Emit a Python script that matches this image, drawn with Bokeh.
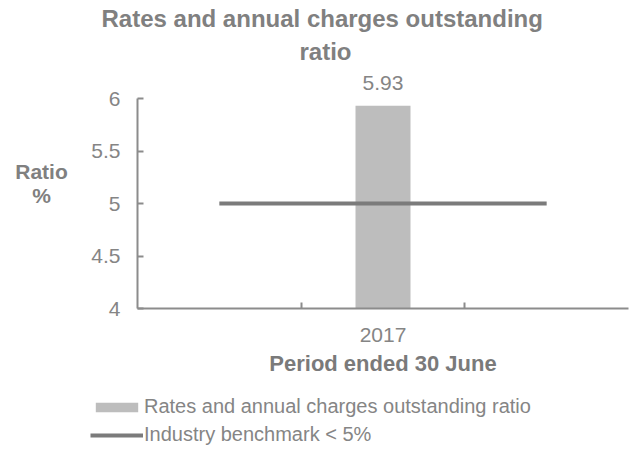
from bokeh.plotting import figure
from bokeh.models import FixedTicker, Range1d, Legend, LegendItem, NumeralTickFormatter, Title, Label
from bokeh.core.properties import value
from bokeh.embed import file_html
from bokeh.resources import INLINE

# ---- data ----
categories = ["", "2017", ""]
bar_years = ["2017"]
ratio = [5.93]
benchmark = [5, 5, 5]
y_ticks = [4, 4.5, 5, 5.5, 6]
y_bounds = (4, 6)
series_names = ["Rates and annual charges outstanding ratio", "Industry benchmark < 5%"]
title_lines = ["Rates and annual charges outstanding", "ratio"]
y_label = "Ratio\n%"
x_label = "Period ended 30 June"

x_pos = [i + 0.5 for i in range(len(categories))]
bar_x = [x_pos[categories.index(y)] for y in bar_years]
boundaries = [float(i) for i in range(1, len(categories))]

FONT = "Liberation Sans"
GREY_TXT = "#858585"
AXIS_C = "#8c8c8c"

n = len(categories)
px_per_cat = 491 / n
px_per_unit = 105.0
p = figure(frame_width=630, frame_height=380, output_backend="svg", toolbar_location=None,
           x_range=Range1d(-137 / px_per_cat, n + 2 / px_per_cat),
           y_range=Range1d(y_bounds[0] - 144 / px_per_unit, y_bounds[1] + 26 / px_per_unit))
p.min_border_left = 0
p.min_border_right = 0
p.min_border_top = 72
p.min_border_bottom = 0
p.outline_line_color = None
p.xgrid.visible = False
p.ygrid.visible = False

def style_title(t, off):
    t.text_font = FONT
    t.text_font_size = "24px"
    t.text_font_style = "bold"
    t.text_color = "#808080"
    t.align = "left"
    t.offset = off
    t.standoff = 0

p.title.text = title_lines[0]
style_title(p.title, 101)
p.title.standoff = -9
t2 = Title(text=title_lines[1])
style_title(t2, 299)
t2.standoff = 16
p.add_layout(t2, "above")

bars = p.vbar(x=bar_x, top=ratio, bottom=y_bounds[0], width=0.336, fill_color="#bdbdbd", line_color=None)
line = p.line(x=x_pos, y=benchmark, line_width=4, line_color="#7b7b7b")

p.text(x=bar_x, y=ratio, text=[f"{v:.2f}" for v in ratio], text_font=value(FONT),
       text_font_size="21px", text_color=GREY_TXT, text_align="center",
       text_baseline="bottom", y_offset=-16)

# y axis
ya = p.yaxis[0]
ya.fixed_location = 0
ya.ticker = FixedTicker(ticks=y_ticks)
ya.formatter = NumeralTickFormatter(format="0.[0]")
ya.bounds = y_bounds
ya.axis_line_color = AXIS_C
ya.axis_line_width = 2
ya.major_tick_line_color = AXIS_C
ya.major_tick_line_width = 2
ya.major_tick_in = 6
ya.major_tick_out = 0
ya.minor_tick_line_color = None
ya.major_label_text_font = FONT
ya.major_label_text_font_size = "21px"
ya.major_label_text_color = GREY_TXT
ya.major_label_standoff = 17

p.add_layout(Label(x=41, y=269, x_units="screen", y_units="screen", text=y_label,
                   text_font=FONT, text_font_size="21px", text_font_style="bold",
                   text_color="#808080", text_align="center", text_baseline="middle",
                   text_line_height=1.05))

# x axis
xa = p.xaxis[0]
xa.fixed_location = y_bounds[0]
xa.bounds = (0, n)
xa.ticker = FixedTicker(ticks=[x_pos[1]], minor_ticks=boundaries)
xa.major_label_overrides = {x_pos[1]: categories[1]}
xa.axis_line_color = AXIS_C
xa.axis_line_width = 2
xa.major_tick_line_color = None
xa.major_tick_in = 0
xa.major_tick_out = 0
xa.minor_tick_line_color = AXIS_C
xa.minor_tick_line_width = 2
xa.minor_tick_in = 6
xa.minor_tick_out = 0
xa.major_label_text_font = FONT
xa.major_label_text_font_size = "21px"
xa.major_label_text_color = GREY_TXT
xa.major_label_standoff = 19
xa.axis_label = x_label
xa.axis_label_text_font = FONT
xa.axis_label_text_font_size = "22px"
xa.axis_label_text_font_style = "bold"
xa.axis_label_text_color = "#7a7a7a"
xa.axis_label_standoff = 6

legend = Legend(items=[LegendItem(label=series_names[0], renderers=[bars]),
                       LegendItem(label=series_names[1], renderers=[line])],
                orientation="vertical", location=(90, 6))
legend.border_line_color = None
legend.background_fill_alpha = 0
legend.label_text_font = FONT
legend.label_text_font_size = "20px"
legend.label_text_color = GREY_TXT
legend.glyph_width = 53
legend.glyph_height = 12
legend.label_height = 20
legend.spacing = 5
legend.padding = 0
legend.margin = 0
legend.label_standoff = 1
p.add_layout(legend)

open("out.html", "w").write(file_html(p, INLINE))
